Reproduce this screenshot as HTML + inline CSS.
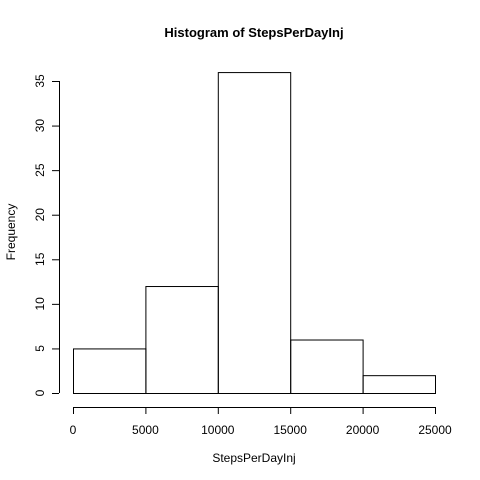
<!DOCTYPE html>
<html><head><meta charset="utf-8"><style>body{margin:0;background:#fff}svg{display:block}text{font-family:"Liberation Sans",Arial,sans-serif;fill:#000}</style></head>
<body>
<svg id="chart" width="480" height="480" viewBox="0 0 480 480">
<rect width="480" height="480" fill="#fff"/>
<text x="254" y="37" font-size="13" font-weight="bold" text-anchor="middle">Histogram of StepsPerDayInj</text>
<text x="254" y="462" font-size="12" text-anchor="middle">StepsPerDayInj</text>
<text transform="translate(15,232) rotate(-90)" font-size="12" text-anchor="middle">Frequency</text>
<g id="bars"></g><g id="xaxis"></g><g id="yaxis"></g>
</svg>
<script>
const binEdges=[0,5000,10000,15000,20000,25000];
const counts=[5,12,36,6,2];
const xTicks=[0,5000,10000,15000,20000,25000];
const yTicks=[0,5,10,15,20,25,30,35];
const NS="http://www.w3.org/2000/svg";
function xs(v){return 73+v*(435-73)/25000;}
function ys(v){return 393-v*(393-81)/35;}
function mk(t,a,p){const e=document.createElementNS(NS,t);for(const k in a)e.setAttribute(k,a[k]);p.appendChild(e);return e;}
const bars=document.getElementById('bars');
counts.forEach((c,i)=>{
const r=mk('rect',{x:xs(binEdges[i])+0.5,y:ys(c)+0.5,width:xs(binEdges[i+1])-xs(binEdges[i]),height:ys(0)-ys(c),fill:'none',stroke:'#000','stroke-width':1},bars);


});
const xa=document.getElementById('xaxis');
const xl=mk('line',{x1:xs(xTicks[0]),x2:xs(xTicks[xTicks.length-1]),y1:407.5,y2:407.5,stroke:'#000'},xa);


xTicks.forEach(t=>{
mk('line',{x1:xs(t)+0.5,x2:xs(t)+0.5,y1:407,y2:414,stroke:'#000'},xa);
const tx=mk('text',{x:xs(t),y:434,'font-size':12,'text-anchor':'middle'},xa);
tx.textContent=t;


});
const ya=document.getElementById('yaxis');
const yl=mk('line',{x1:59.5,x2:59.5,y1:ys(yTicks[0]),y2:ys(yTicks[yTicks.length-1]),stroke:'#000'},ya);


yTicks.forEach(t=>{
mk('line',{x1:52,x2:59,y1:ys(t)+0.5,y2:ys(t)+0.5,stroke:'#000'},ya);
const tx=mk('text',{transform:'translate(44,'+ys(t)+') rotate(-90)','font-size':12,'text-anchor':'middle'},ya);
tx.textContent=t;


});
</script>
</body></html>
